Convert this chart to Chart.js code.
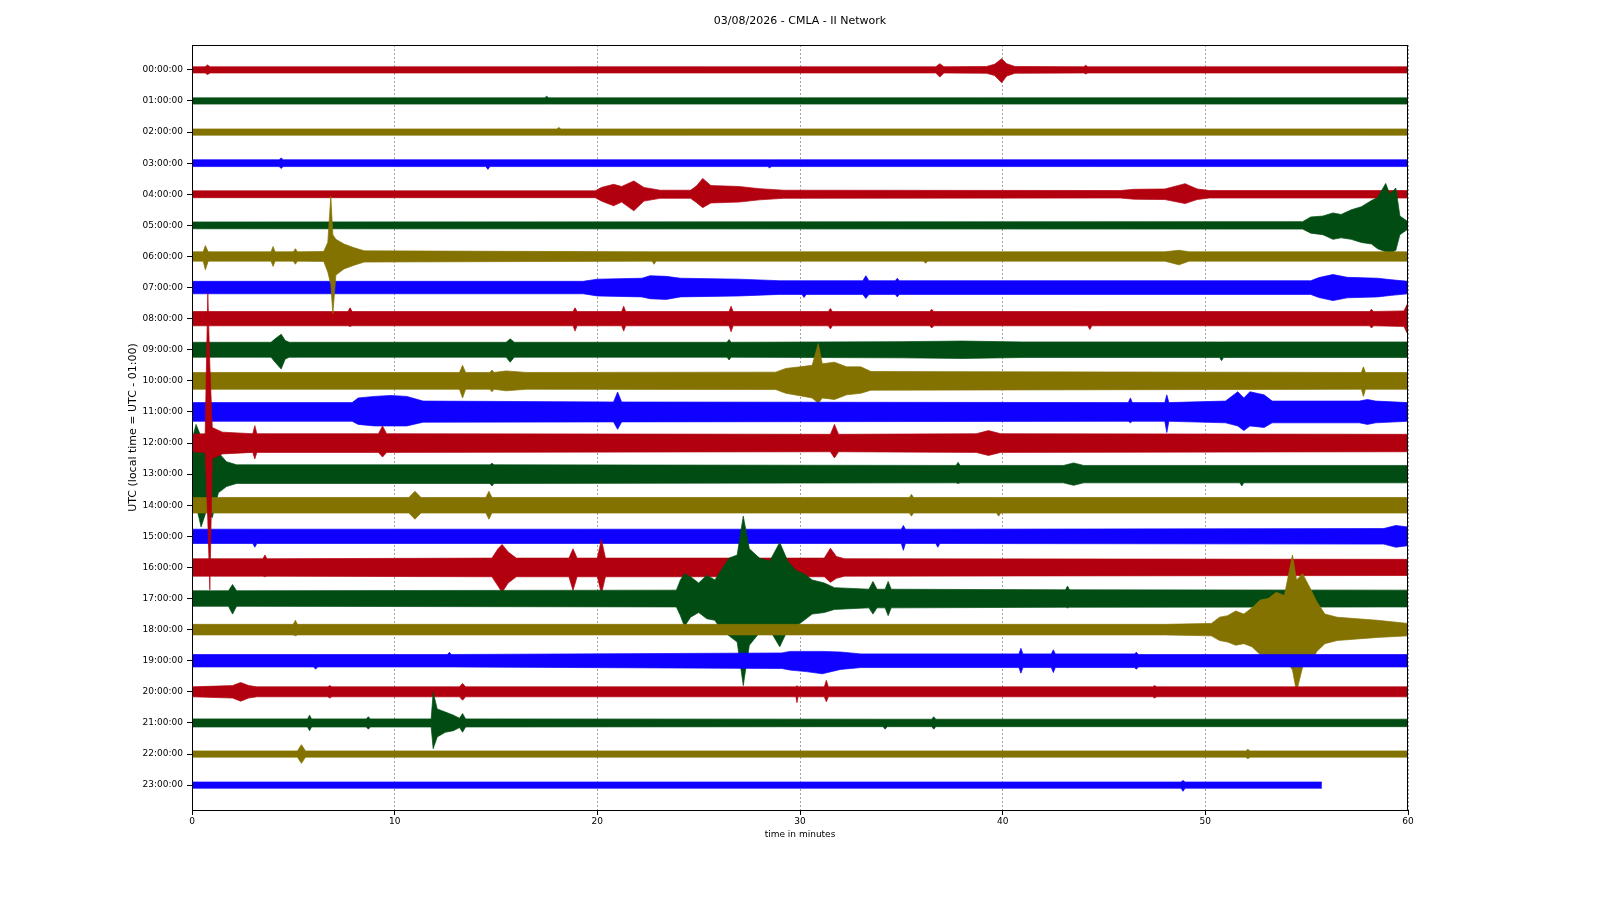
<!DOCTYPE html>
<html>
<head>
<meta charset="utf-8">
<script src="https://cdn.jsdelivr.net/npm/chart.js@4.4.1/dist/chart.umd.min.js"></script>
<style>
  html, body { margin: 0; padding: 0; background: #ffffff; }
  #wrap { width: 1600px; height: 900px; }
</style>
</head>
<body>
<div id="wrap"><canvas id="c" width="1600" height="900"></canvas></div>
<script>
const chartTitle = '03/08/2026 - CMLA - II Network';
const xTickValues = [0, 10, 20, 30, 40, 50, 60];
const hourLabels = ['00:00:00','01:00:00','02:00:00','03:00:00','04:00:00','05:00:00',
  '06:00:00','07:00:00','08:00:00','09:00:00','10:00:00','11:00:00','12:00:00','13:00:00',
  '14:00:00','15:00:00','16:00:00','17:00:00','18:00:00','19:00:00','20:00:00','21:00:00',
  '22:00:00','23:00:00'];
const traceColors = ['#B2000F', '#004C12', '#847200', '#0E01FF'];

// Each trace: envelope keypoints [minute, amplitude above line, amplitude below line] in line-spacing units
const trace00 = [[0,0.1,0.1],[0.65,0.1,0.1],[0.76,0.16,0.15],[0.9,0.1,0.1],[36.7,0.1,0.1],[36.9,0.2,0.23],[37.1,0.1,0.1],[39.2,0.11,0.11],[39.6,0.18,0.18],[39.95,0.36,0.41],[40.2,0.2,0.2],[40.6,0.11,0.11],[44.0,0.1,0.1],[44.1,0.15,0.13],[44.2,0.1,0.1],[60,0.1,0.1]];
const trace01 = [[0,0.1,0.1],[17.4,0.1,0.1],[17.5,0.15,0.1],[17.6,0.1,0.1],[60,0.1,0.1]];
const trace02 = [[0,0.1,0.1],[18.0,0.1,0.1],[18.1,0.15,0.1],[18.2,0.1,0.1],[60,0.1,0.1]];
const trace03 = [[0,0.11,0.11],[4.3,0.11,0.11],[4.4,0.17,0.17],[4.5,0.11,0.11],[14.5,0.11,0.11],[14.6,0.11,0.2],[14.7,0.11,0.11],[28.4,0.11,0.11],[28.5,0.11,0.15],[28.6,0.11,0.11],[60,0.11,0.11]];
const trace04 = [[0,0.11,0.11],[19.9,0.11,0.11],[20.2,0.22,0.22],[20.8,0.32,0.37],[21.2,0.25,0.25],[21.8,0.43,0.53],[22.3,0.22,0.22],[23.1,0.13,0.13],[24.6,0.13,0.13],[24.9,0.27,0.27],[25.2,0.51,0.43],[25.6,0.28,0.28],[27.0,0.25,0.25],[28.0,0.18,0.18],[29.2,0.13,0.13],[45.8,0.12,0.12],[46.5,0.16,0.16],[48.0,0.17,0.17],[49.0,0.34,0.3],[49.6,0.17,0.17],[50.2,0.12,0.12],[60,0.12,0.12]];
const trace05 = [[0,0.11,0.11],[54.8,0.12,0.12],[55.2,0.27,0.25],[55.8,0.3,0.3],[56.3,0.4,0.45],[56.7,0.35,0.4],[57.2,0.5,0.45],[57.7,0.6,0.55],[58.2,0.8,0.6],[58.5,0.9,0.75],[58.9,1.35,0.85],[59.1,1.0,0.9],[59.4,1.2,0.8],[59.6,0.3,0.3],[60,0.12,0.12]];
const trace06 = [[0,0.15,0.15],[0.55,0.15,0.15],[0.66,0.35,0.43],[0.8,0.15,0.15],[3.9,0.15,0.15],[4.0,0.32,0.32],[4.1,0.15,0.15],[5.0,0.15,0.15],[5.1,0.25,0.25],[5.2,0.15,0.15],[6.5,0.16,0.16],[6.7,0.45,0.5],[6.85,1.94,0.9],[6.95,0.7,1.84],[7.1,0.55,0.6],[7.5,0.4,0.4],[8.0,0.28,0.28],[8.5,0.18,0.18],[22.7,0.15,0.15],[22.8,0.15,0.25],[22.9,0.15,0.15],[36.1,0.15,0.15],[36.2,0.15,0.22],[36.3,0.15,0.15],[48.0,0.15,0.15],[48.7,0.2,0.27],[49.2,0.15,0.15],[60,0.15,0.15]];
const trace07 = [[0,0.2,0.2],[19.3,0.2,0.2],[20,0.27,0.27],[22.2,0.3,0.3],[22.6,0.38,0.36],[23.4,0.36,0.38],[24.1,0.3,0.3],[27,0.27,0.27],[29,0.22,0.22],[30.1,0.22,0.22],[30.2,0.22,0.32],[30.3,0.22,0.22],[33.1,0.22,0.22],[33.25,0.38,0.35],[33.4,0.22,0.22],[34.7,0.22,0.22],[34.8,0.3,0.3],[34.9,0.22,0.22],[55.2,0.22,0.22],[55.6,0.32,0.32],[56.3,0.42,0.42],[57.0,0.33,0.33],[58.5,0.3,0.3],[59.2,0.25,0.25],[60,0.2,0.2]];
const trace08 = [[0,0.23,0.23],[7.7,0.23,0.23],[7.8,0.35,0.25],[7.9,0.23,0.23],[18.8,0.23,0.23],[18.9,0.35,0.4],[19.0,0.23,0.23],[21.2,0.23,0.23],[21.3,0.4,0.4],[21.4,0.23,0.23],[26.5,0.23,0.23],[26.6,0.4,0.42],[26.7,0.23,0.23],[31.4,0.23,0.23],[31.5,0.33,0.33],[31.6,0.23,0.23],[36.4,0.23,0.23],[36.5,0.3,0.3],[36.6,0.23,0.23],[44.2,0.23,0.23],[44.3,0.23,0.35],[44.4,0.23,0.23],[58.1,0.23,0.23],[58.2,0.3,0.3],[58.3,0.23,0.23],[59.8,0.25,0.25],[59.95,0.45,0.45],[60,0.3,0.3]];
const trace09 = [[0,0.24,0.24],[3.9,0.24,0.24],[4.1,0.35,0.4],[4.4,0.5,0.62],[4.6,0.3,0.3],[4.8,0.24,0.24],[15.5,0.24,0.24],[15.7,0.35,0.4],[15.9,0.24,0.24],[26.4,0.24,0.24],[26.5,0.33,0.33],[26.6,0.24,0.24],[35,0.26,0.26],[38,0.28,0.28],[41,0.25,0.25],[50.7,0.25,0.25],[50.8,0.25,0.35],[50.9,0.25,0.25],[60,0.25,0.25]];
const trace10 = [[0,0.27,0.27],[13.2,0.27,0.27],[13.35,0.5,0.55],[13.5,0.27,0.27],[14.7,0.27,0.27],[14.8,0.35,0.35],[14.9,0.27,0.27],[15.5,0.32,0.32],[16.5,0.27,0.27],[28.8,0.28,0.28],[29.3,0.4,0.4],[30.0,0.45,0.48],[30.6,0.5,0.55],[30.9,1.2,0.72],[31.1,0.55,0.55],[31.7,0.6,0.6],[32.3,0.45,0.45],[33.0,0.45,0.4],[33.5,0.3,0.3],[57.7,0.27,0.27],[57.8,0.45,0.5],[57.9,0.27,0.27],[60,0.27,0.27]];
const trace11 = [[0,0.3,0.3],[7.9,0.3,0.3],[8.2,0.45,0.4],[9.0,0.5,0.45],[9.8,0.53,0.45],[10.6,0.5,0.45],[11.4,0.35,0.33],[20.8,0.32,0.32],[21.0,0.64,0.56],[21.2,0.32,0.32],[46.2,0.3,0.3],[46.3,0.45,0.35],[46.4,0.3,0.3],[48.0,0.3,0.3],[48.1,0.55,0.66],[48.2,0.3,0.3],[51.0,0.35,0.35],[51.6,0.65,0.45],[51.9,0.45,0.6],[52.2,0.65,0.45],[52.9,0.55,0.5],[53.3,0.35,0.35],[57.6,0.35,0.35],[58.0,0.4,0.4],[58.4,0.35,0.35],[60,0.3,0.3]];
const trace12 = [[0,0.28,0.28],[0.65,0.3,0.3],[0.78,4.82,2.5],[0.88,2.5,4.72],[1.0,0.5,0.5],[1.5,0.35,0.35],[3.0,0.3,0.3],[3.1,0.56,0.51],[3.2,0.3,0.3],[9.2,0.3,0.3],[9.4,0.55,0.45],[9.6,0.3,0.3],[31.5,0.28,0.28],[31.7,0.6,0.48],[31.9,0.28,0.28],[38.7,0.3,0.3],[39.3,0.4,0.4],[39.9,0.3,0.3],[60,0.28,0.28]];
const trace13 = [[0,1.1,1.1],[0.2,1.6,1.0],[0.45,1.2,1.7],[0.7,1.3,1.2],[1.0,1.0,1.4],[1.3,0.7,0.6],[1.7,0.4,0.4],[2.2,0.3,0.3],[14.7,0.3,0.3],[14.8,0.35,0.38],[14.9,0.3,0.3],[37.7,0.28,0.28],[37.8,0.38,0.3],[37.9,0.28,0.28],[43.0,0.28,0.28],[43.5,0.36,0.36],[44.0,0.28,0.28],[51.7,0.28,0.28],[51.8,0.28,0.38],[51.9,0.28,0.28],[60,0.28,0.28]];
const trace14 = [[0,0.25,0.25],[10.7,0.25,0.25],[11.0,0.45,0.45],[11.3,0.25,0.25],[14.5,0.25,0.25],[14.65,0.45,0.45],[14.8,0.25,0.25],[35.4,0.25,0.25],[35.5,0.35,0.35],[35.6,0.25,0.25],[39.7,0.25,0.25],[39.8,0.25,0.35],[39.9,0.25,0.25],[60,0.25,0.25]];
const trace15 = [[0,0.23,0.23],[3.0,0.23,0.23],[3.1,0.23,0.35],[3.2,0.23,0.23],[35.0,0.23,0.23],[35.1,0.35,0.45],[35.2,0.23,0.23],[36.7,0.23,0.23],[36.8,0.23,0.35],[36.9,0.23,0.23],[58.8,0.25,0.25],[59.4,0.35,0.35],[60,0.3,0.3]];
const trace16 = [[0,0.28,0.28],[3.5,0.28,0.28],[3.6,0.4,0.3],[3.7,0.28,0.28],[14.8,0.3,0.3],[15.1,0.6,0.6],[15.3,0.74,0.8],[15.6,0.5,0.5],[16.0,0.3,0.3],[18.6,0.3,0.3],[18.8,0.6,0.74],[19.0,0.3,0.3],[20.0,0.3,0.3],[20.2,0.9,0.85],[20.4,0.3,0.3],[31.2,0.3,0.3],[31.5,0.62,0.48],[31.8,0.35,0.35],[32.2,0.28,0.28],[60,0.26,0.26]];
const trace17 = [[0,0.25,0.25],[1.8,0.25,0.25],[2.0,0.45,0.5],[2.2,0.25,0.25],[23.9,0.27,0.27],[24.1,0.6,0.55],[24.3,0.8,0.9],[24.6,0.7,0.6],[25.0,0.5,0.45],[25.4,0.75,0.65],[25.8,0.6,0.7],[26.1,0.9,1.0],[26.5,1.3,1.2],[26.9,1.4,1.4],[27.2,2.65,2.8],[27.5,1.6,1.5],[28.0,1.3,1.1],[28.5,1.2,1.0],[29.0,1.8,1.55],[29.4,1.2,1.0],[29.8,0.9,0.9],[30.2,0.8,0.7],[30.6,0.6,0.5],[31.2,0.5,0.45],[31.7,0.35,0.35],[33.4,0.3,0.3],[33.6,0.55,0.5],[33.8,0.3,0.3],[34.2,0.3,0.3],[34.35,0.55,0.55],[34.5,0.3,0.3],[43.1,0.28,0.28],[43.2,0.4,0.3],[43.3,0.28,0.28],[60,0.27,0.27]];
const trace18 = [[0,0.17,0.17],[5.0,0.17,0.17],[5.1,0.3,0.2],[5.2,0.17,0.17],[48,0.17,0.17],[50.3,0.2,0.2],[50.7,0.4,0.35],[51.1,0.45,0.4],[51.5,0.6,0.5],[51.9,0.5,0.45],[52.3,0.7,0.55],[52.7,0.95,0.8],[53.1,1.0,0.85],[53.5,1.2,0.9],[53.9,1.1,0.9],[54.3,2.4,1.3],[54.5,1.6,2.0],[54.8,1.8,1.2],[55.2,1.3,1.1],[55.5,0.9,0.7],[55.9,0.5,0.45],[56.5,0.4,0.35],[57.5,0.35,0.3],[58.5,0.3,0.25],[60,0.2,0.2]];
const trace19 = [[0,0.2,0.2],[6.0,0.2,0.2],[6.1,0.2,0.27],[6.2,0.2,0.2],[12.6,0.2,0.2],[12.7,0.27,0.2],[12.8,0.2,0.2],[29.1,0.25,0.25],[29.5,0.3,0.3],[30.3,0.3,0.35],[31.1,0.3,0.42],[32.0,0.28,0.28],[33,0.22,0.22],[40.8,0.22,0.22],[40.9,0.4,0.4],[41.0,0.22,0.22],[42.4,0.22,0.22],[42.5,0.35,0.38],[42.6,0.22,0.22],[46.5,0.22,0.22],[46.6,0.27,0.27],[46.7,0.2,0.2],[60,0.2,0.2]];
const trace20 = [[0,0.16,0.16],[2.0,0.2,0.2],[2.4,0.3,0.3],[2.8,0.2,0.2],[3.2,0.16,0.16],[6.7,0.16,0.16],[6.8,0.2,0.2],[6.9,0.16,0.16],[13.2,0.16,0.16],[13.35,0.27,0.27],[13.5,0.16,0.16],[29.8,0.16,0.16],[29.85,0.2,0.35],[29.9,0.16,0.16],[31.2,0.16,0.16],[31.3,0.37,0.32],[31.4,0.16,0.16],[47.4,0.16,0.16],[47.5,0.2,0.2],[47.6,0.16,0.16],[60,0.16,0.16]];
const trace21 = [[0,0.13,0.13],[5.7,0.13,0.13],[5.8,0.25,0.25],[5.9,0.13,0.13],[8.6,0.13,0.13],[8.7,0.2,0.2],[8.8,0.13,0.13],[11.8,0.13,0.13],[11.9,0.98,0.83],[12.1,0.45,0.45],[12.5,0.35,0.3],[12.9,0.25,0.25],[13.2,0.15,0.15],[13.35,0.3,0.3],[13.5,0.13,0.13],[34.1,0.12,0.12],[34.2,0.12,0.2],[34.3,0.12,0.12],[36.5,0.12,0.12],[36.6,0.2,0.2],[36.7,0.12,0.12],[60,0.12,0.12]];
const trace22 = [[0,0.1,0.1],[5.2,0.1,0.1],[5.4,0.3,0.3],[5.6,0.1,0.1],[52.0,0.1,0.1],[52.1,0.15,0.15],[52.2,0.1,0.1],[60,0.1,0.1]];
const trace23 = [[0,0.1,0.1],[48.8,0.1,0.1],[48.9,0.15,0.2],[49.0,0.1,0.1],[55.75,0.1,0.1]];

const traces = [trace00,trace01,trace02,trace03,trace04,trace05,trace06,trace07,trace08,trace09,
  trace10,trace11,trace12,trace13,trace14,trace15,trace16,trace17,trace18,trace19,trace20,trace21,trace22,trace23];

// traces whose large spikes are painted over their neighbours in the reference
const tracesOnTop = [6, 12];

// ---- Build datasets: each trace is an envelope band (upper line filled to lower line) ----
const datasets = [];
traces.forEach((pts, i) => {
  const color = traceColors[i % traceColors.length];
  const ord = tracesOnTop.includes(i) ? tracesOnTop.indexOf(i) : 1000 - i;
  datasets.push({
    label: hourLabels[i],
    data: pts.map(p => ({ x: p[0], y: i - p[1] })),
    borderColor: color,
    backgroundColor: color,
    borderWidth: 0.7,
    pointRadius: 0,
    tension: 0,
    fill: '+1',
    order: ord
  });
  datasets.push({
    label: hourLabels[i] + ' (low)',
    data: pts.map(p => ({ x: p[0], y: i + p[2] })),
    borderColor: color,
    backgroundColor: color,
    borderWidth: 0.7,
    pointRadius: 0,
    tension: 0,
    fill: false,
    order: ord
  });
});

const FONT = 'DejaVu Sans';

const framePlugin = {
  id: 'frameAndTitle',
  afterDatasetsDraw(chart) {
    const { ctx, chartArea: a } = chart;
    ctx.save();
    ctx.strokeStyle = '#000';
    ctx.lineWidth = 1;
    ctx.strokeRect(Math.round(a.left) + 0.5, Math.round(a.top) + 0.5,
      Math.round(a.right - a.left) - 1, Math.round(a.bottom - a.top));
    ctx.restore();
  },
  afterDraw(chart) {
    const { ctx, chartArea: a } = chart;
    ctx.save();
    ctx.fillStyle = '#000';
    ctx.font = '11px "' + FONT + '"';
    ctx.textAlign = 'center';
    ctx.textBaseline = 'middle';
    ctx.fillText(chartTitle, (a.left + a.right) / 2, 21.5);
    ctx.restore();
  }
};

new Chart(document.getElementById('c'), {
  type: 'line',
  data: { datasets },
  options: {
    responsive: false,
    devicePixelRatio: 1,
    animation: false,
    events: [],
    layout: { padding: { left: 127, right: 192, top: 45, bottom: 60 } },
    plugins: {
      legend: { display: false },
      tooltip: { enabled: false },
      title: { display: false },
      filler: { propagate: false }
    },
    scales: {
      x: {
        type: 'linear',
        min: 0, max: 60,
        afterBuildTicks: s => { s.ticks = xTickValues.map(v => ({ value: v })); },
        afterFit: s => { s.height = 30; },
        ticks: { color: '#000', font: { family: FONT, size: 9 }, padding: 1, maxRotation: 0, autoSkip: false },
        grid: { color: '#8a8a8a', lineWidth: 0.8, tickColor: '#000', tickLength: 5, tickWidth: 1 },
        border: { display: false, dash: [2, 2] },
        title: { display: true, text: 'time in minutes', color: '#000', font: { family: FONT, size: 9 }, padding: 0 }
      },
      y: {
        type: 'linear',
        reverse: true,
        min: -0.8, max: 23.8,
        afterBuildTicks: s => { s.ticks = hourLabels.map((_, i) => ({ value: i })); },
        afterFit: s => { s.width = 65; },
        ticks: {
          color: '#000', font: { family: FONT, size: 9 }, padding: 4, autoSkip: false,
          callback: v => hourLabels[v]
        },
        grid: { drawOnChartArea: false, tickColor: '#000', tickLength: 5, tickWidth: 1 },
        border: { display: false },
        title: { display: true, text: 'UTC (local time = UTC - 01:00)', color: '#000', font: { family: FONT, size: 11 }, padding: 0 }
      }
    }
  },
  plugins: [framePlugin]
});
</script>
</body>
</html>
